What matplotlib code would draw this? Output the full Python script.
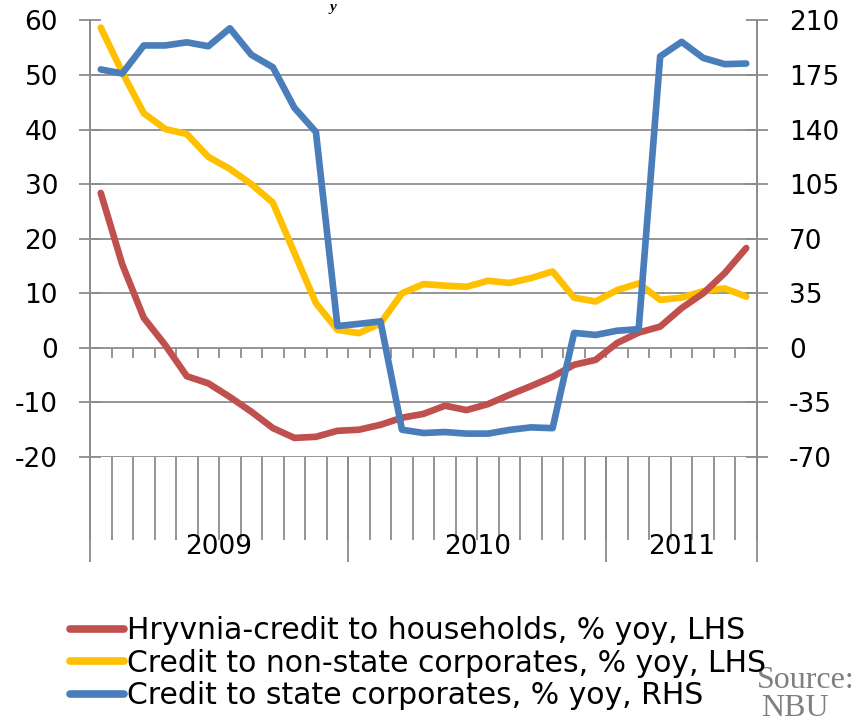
import matplotlib.pyplot as plt
import matplotlib.transforms as mtransforms
from matplotlib.lines import Line2D
import numpy as np

# monthly data, Jan 2009 - Jul 2011
years = ["2009", "2010", "2011"]
months_per_year = [12, 12, 7]

households = [28.4, 15.3, 5.5, 0.5, -5.2, -6.5, -9.0, -11.7, -14.7, -16.5, -16.3,
              -15.2, -15.0, -14.1, -12.8, -12.1, -10.6, -11.4, -10.3, -8.6, -7.0,
              -5.3, -3.1, -2.2, 0.9, 2.8, 3.9, 7.3, 10.0, 13.7, 18.3]
non_state = [58.7, 50.5, 43.0, 40.1, 39.2, 35.0, 32.8, 30.0, 26.6, 17.4, 8.2,
             3.3, 2.7, 4.5, 10.0, 11.7, 11.4, 11.2, 12.3, 11.9, 12.8,
             14.0, 9.2, 8.5, 10.6, 11.8, 8.8, 9.2, 10.4, 10.9, 9.4]
state = [178.6, 176.0, 194.0, 194.0, 196.0, 193.5, 205.0, 188.0, 180.0, 154.0, 138.5,
         14.0, 15.4, 17.0, -52.5, -54.6, -54.0, -55.0, -55.0, -52.6, -51.0,
         -51.5, 9.6, 8.3, 11.0, 12.0, 187.0, 196.3, 186.0, 182.0, 182.4]

labels = ["Hryvnia-credit to households, % yoy, LHS",
          "Credit to non-state corporates, % yoy, LHS",
          "Credit to state corporates, % yoy, RHS"]
c_red, c_yel, c_blue = "#C0504D", "#FFC000", "#4A7EBB"
grey = "#8C8C8C"

plt.rcParams['font.family'] = ['DejaVu Sans']
plt.rcParams['axes.unicode_minus'] = False
fig = plt.figure(figsize=(8.56, 7.23), dpi=100)
ax = fig.add_axes([90 / 856, 1 - 457 / 723, (757 - 90) / 856, (457 - 20.5) / 723])
ax2 = ax.twinx()

x = np.arange(len(households))
n = len(x)
lw = 4.8
ax.plot(x, non_state, color=c_yel, lw=lw, solid_joinstyle='round', solid_capstyle='round', zorder=3)
ax.plot(x, households, color=c_red, lw=lw, solid_joinstyle='round', solid_capstyle='round', zorder=4)
ax2.plot(x, state, color=c_blue, lw=lw, solid_joinstyle='round', solid_capstyle='round', zorder=5)

ax.set_xlim(-0.5, n - 0.5)
ax.set_ylim(-20, 60)
ax2.set_ylim(-70, 210)
ax.set_yticks(np.arange(-20, 61, 10))
ax2.set_yticks(np.arange(-70, 211, 35))
ax.set_xticks([])
ax.grid(axis='y', color=grey, lw=1.3)
ax.set_axisbelow(True)

for a in (ax, ax2):
    for s in ('top', 'bottom'):
        a.spines[s].set_visible(False)
    for s in ('left', 'right'):
        a.spines[s].set_color(grey)
        a.spines[s].set_linewidth(1.3)
    a.tick_params(axis='y', direction='inout', length=16, width=1.3, color=grey,
                  labelsize=19, pad=15)

# small tick marks on the zero line at month boundaries
bounds = np.arange(n + 1) - 0.5
ax.vlines(bounds[1:-1], -1.85, 0, color=grey, lw=1.3, zorder=2)

# category label area below the plot
trans = mtransforms.blended_transform_factory(ax.transData, ax.transAxes)
ax.vlines(bounds, -83 / 436.5, 0, color=grey, lw=1.3, transform=trans, clip_on=False)
edges = np.concatenate([[0], np.cumsum(months_per_year)]) - 0.5
ax.vlines(edges, -105 / 436.5, 0, color=grey, lw=1.3, transform=trans, clip_on=False)
for i, yr in enumerate(years):
    ax.text((edges[i] + edges[i + 1]) / 2, -90 / 436.5, yr, transform=trans,
            ha='center', va='center', fontsize=19)

# legend
handles = [Line2D([], [], color=c, lw=5.5, solid_capstyle='round') for c in (c_red, c_yel, c_blue)]
fig.legend(handles, labels, loc='upper left', bbox_to_anchor=(70 / 856, 1 - 616 / 723),
           frameon=False, fontsize=21.5, handlelength=1.8, handletextpad=0.1,
           labelspacing=0.12, borderpad=0, borderaxespad=0)

# source note, cut at the right edge
fig.text(757 / 856, 1 - 680 / 723, "Source:", fontsize=23, color="#7F7F7F",
         family='Liberation Serif', ha='left', va='center')
fig.text(795 / 856, 1 - 709 / 723, "NBU", fontsize=23, color="#7F7F7F",
         family='Liberation Serif', ha='center', va='center')
# title remnant at the top edge
fig.text(333 / 856, 1 - 1 / 723, "y", fontsize=11, fontweight='bold', style='italic',
         family='Liberation Serif', ha='center', va='top')

fig.savefig("out.png", dpi=100)
